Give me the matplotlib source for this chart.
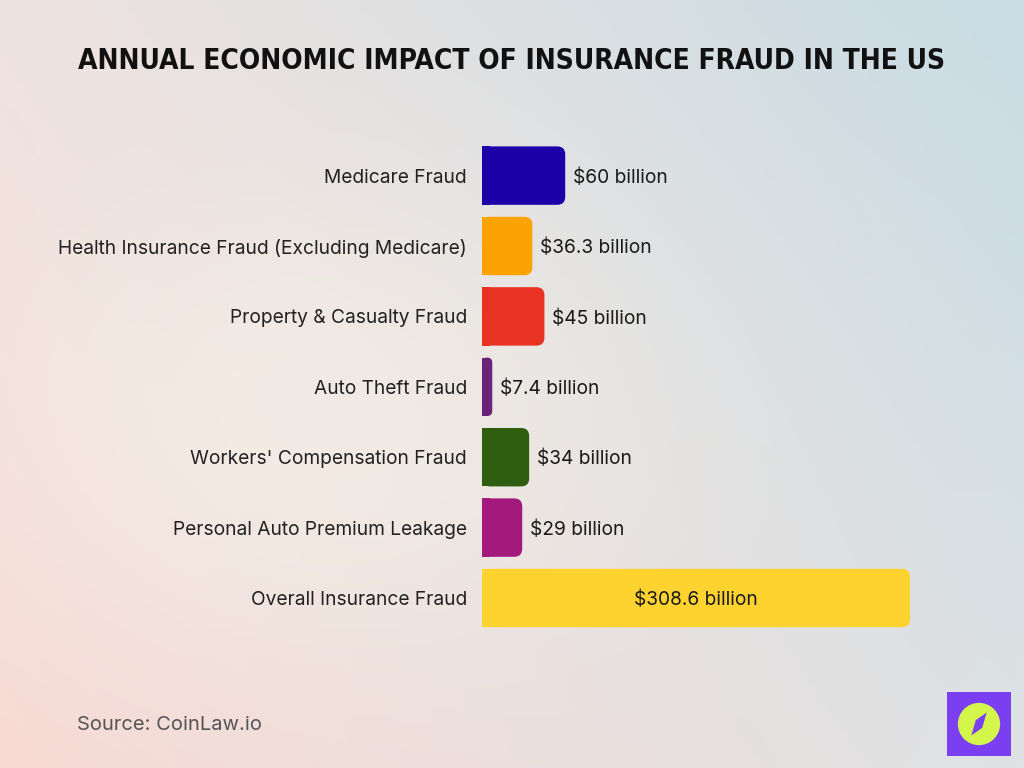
import numpy as np
import matplotlib
matplotlib.use('Agg')
import matplotlib.pyplot as plt
from matplotlib.patches import FancyBboxPatch, Rectangle, Circle, Polygon

# data
categories = ['Medicare Fraud', 'Health Insurance Fraud (Excluding Medicare)',
              'Property & Casualty Fraud', 'Auto Theft Fraud',
              "Workers' Compensation Fraud", 'Personal Auto Premium Leakage',
              'Overall Insurance Fraud']
values = [60, 36.3, 45, 7.4, 34, 29, 308.6]
labels = ['$60 billion', '$36.3 billion', '$45 billion', '$7.4 billion',
          '$34 billion', '$29 billion', '$308.6 billion']
colors = ['#1c00a8', '#fba305', '#e83222', '#6a2378', '#2f5e10', '#a3197c', '#fed330']

FONT = ['Inter', 'DejaVu Sans']

fig = plt.figure(figsize=(10.24, 7.68), dpi=100)

# background gradient
bg = fig.add_axes([0, 0, 1, 1], zorder=-10)
h, w = 200, 256
yy, xx = np.mgrid[0:1:h * 1j, 0:1:w * 1j]
tl = np.array([238, 226, 224]) / 255
tr = np.array([200, 220, 228]) / 255
bl = np.array([248, 216, 210]) / 255
br = np.array([222, 226, 228]) / 255
img = (tl * ((1 - xx) * (1 - yy))[..., None] + tr * (xx * (1 - yy))[..., None]
       + bl * ((1 - xx) * yy)[..., None] + br * (xx * yy)[..., None])
# warm light center
c = np.exp(-(((xx - 0.3) / 0.35) ** 2 + ((yy - 0.55) / 0.35) ** 2))
img = img * (1 - 0.6 * c[..., None]) + np.array([248, 244, 234]) / 255 * 0.6 * c[..., None]
bg.imshow(img, aspect='auto', extent=[0, 1, 0, 1], origin='upper')
bg.set_xlim(0, 1)
bg.set_ylim(0, 1)
bg.axis('off')

ax = fig.add_axes([482 / 1024, 1 - 633.2 / 768, 428 / 1024, 492.8 / 768])
ax.set_xlim(0, values[-1])
ax.set_ylim(len(values) - 0.5, -0.5)
ax.axis('off')

bar_h = 0.83
px_x = values[-1] / 428      # data units per pixel in x
px_y = 1 / 70.4              # data units per pixel in y
for i, (v, col) in enumerate(zip(values, colors)):
    r = min(8 * px_x, v / 2)
    box = FancyBboxPatch((0, i - bar_h / 2), v, bar_h,
                         boxstyle=f'round,pad=0,rounding_size={r}',
                         mutation_aspect=px_y / px_x,
                         fc=col, ec='none')
    ax.add_patch(box)
    ax.add_patch(Rectangle((0, i - bar_h / 2), min(v / 2, r + 0.01), bar_h,
                           fc=col, ec='none'))
    ty = i + 2 * px_y
    ax.text(-15 * px_x, ty, categories[i], ha='right', va='center',
            fontsize=13.8, color='#222222', family=FONT)
    if i == len(values) - 1:
        ax.text(v / 2, ty, labels[i], ha='center', va='center',
                fontsize=13.8, color='#1a1a1a', family=FONT)
    else:
        ax.text(v + 8 * px_x, ty, labels[i], ha='left', va='center',
                fontsize=13.8, color='#1a1a1a', family=FONT)

fig.text(0.5, 1 - 61 / 768, 'ANNUAL ECONOMIC IMPACT OF INSURANCE FRAUD IN THE US',
         ha='center', va='center', fontsize=20.2, fontweight='bold',
         fontstretch='condensed', family=['DejaVu Sans'], color='#111111')

fig.text(77 / 1024, 1 - 725 / 768, 'Source: CoinLaw.io', ha='left', va='center',
         fontsize=14.5, color='#555555', family=FONT)

# logo
lg = fig.add_axes([947 / 1024, 1 - 756 / 768, 64 / 1024, 64 / 768])
lg.set_xlim(0, 1)
lg.set_ylim(0, 1)
lg.axis('off')
lg.add_patch(Rectangle((0, 0), 1, 1, fc='#7b3ff2', ec='none'))
lg.add_patch(Circle((0.5, 0.5), 0.33, fc='#d4f54a', ec='none'))
lg.add_patch(Polygon([[0.62, 0.68], [0.55, 0.44], [0.38, 0.32], [0.45, 0.56]],
                     fc='#7b3ff2', ec='none'))

fig.savefig('out.png', dpi=100)
